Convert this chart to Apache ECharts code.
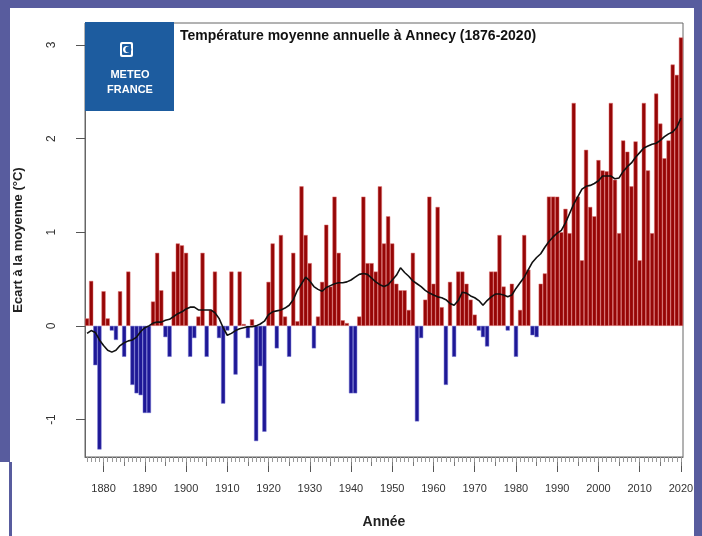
<!DOCTYPE html>
<html>
<head>
<meta charset="utf-8">
<script src="https://cdn.jsdelivr.net/npm/echarts@6/dist/echarts.min.js"></script>
<style>
  html, body { margin: 0; padding: 0; background: #fff; }
  #wrap { position: relative; width: 702px; height: 536px; background: #fff; overflow: hidden; }
  .frame { position: absolute; background: #585c9e; }
  #chart { position: absolute; left: 0; top: 0; width: 702px; height: 536px; }
</style>
</head>
<body>
<div id="wrap">
  <div class="frame" style="left:0;top:0;width:702px;height:8px"></div>
  <div class="frame" style="left:0;top:0;width:10px;height:462px"></div>
  <div class="frame" style="left:9px;top:462px;width:3px;height:74px"></div>
  <div class="frame" style="left:694px;top:0;width:8px;height:536px"></div>
  <div id="chart"></div>
</div>
<script>
// années 1876 - 2020
var annees = [];
for (var a = 1876; a <= 2020; a++) { annees.push(String(a)); }

// écart annuel à la moyenne (°C)
var ecart = [
  0.08, 0.48, -0.42, -1.32, 0.37, 0.08, -0.05, -0.15, 0.37, -0.33,   // 1876-1885
  0.58, -0.63, -0.72, -0.74, -0.93, -0.93, 0.26, 0.78, 0.38, -0.12,  // 1886-1895
  -0.33, 0.58, 0.88, 0.86, 0.78, -0.33, -0.13, 0.10, 0.78, -0.33,    // 1896-1905
  0.17, 0.58, -0.13, -0.83, -0.05, 0.58, -0.52, 0.58, 0.02, -0.13,   // 1906-1915
  0.07, -1.23, -0.43, -1.13, 0.47, 0.88, -0.24, 0.97, 0.10, -0.33,   // 1916-1925
  0.78, 0.05, 1.49, 0.97, 0.67, -0.24, 0.10, 0.47, 1.08, 0.42,       // 1926-1935
  1.38, 0.78, 0.06, 0.03, -0.72, -0.72, 0.10, 1.38, 0.67, 0.67,      // 1936-1945
  0.58, 1.49, 0.88, 1.17, 0.88, 0.45, 0.38, 0.38, 0.17, 0.78,        // 1946-1955
  -1.02, -0.13, 0.28, 1.38, 0.45, 1.27, 0.20, -0.63, 0.47, -0.33,    // 1956-1965
  0.58, 0.58, 0.45, 0.28, 0.12, -0.05, -0.12, -0.22, 0.58, 0.58,     // 1966-1975
  0.97, 0.42, -0.05, 0.45, -0.33, 0.17, 0.97, 0.60, -0.10, -0.12,    // 1976-1985
  0.45, 0.56, 1.38, 1.38, 1.38, 1.00, 1.25, 0.99, 2.38, 1.38,        // 1986-1995
  0.70, 1.88, 1.27, 1.17, 1.77, 1.66, 1.65, 2.38, 1.56, 0.99,        // 1996-2005
  1.98, 1.86, 1.49, 1.97, 0.70, 2.38, 1.66, 0.99, 2.48, 2.16,        // 2006-2015
  1.79, 1.98, 2.79, 2.68, 3.08                                       // 2016-2020
];

// courbe lissée (trait noir)
var lissage = [
  -0.08, -0.05, -0.07, -0.15, -0.21, -0.26, -0.28, -0.26, -0.21, -0.18,
  -0.16, -0.15, -0.12, -0.06, -0.02, 0.00, 0.03, 0.04, 0.04, 0.06,
  0.07, 0.10, 0.13, 0.15, 0.18, 0.20, 0.20, 0.17, 0.17, 0.17,
  0.17, 0.14, 0.08, -0.02, -0.10, -0.08, -0.05, -0.03, -0.02, -0.01,
  -0.01, 0.00, 0.02, 0.05, 0.12, 0.15, 0.16, 0.17, 0.19, 0.22,
  0.28, 0.38, 0.45, 0.52, 0.48, 0.42, 0.39, 0.37, 0.41, 0.43,
  0.45, 0.46, 0.46, 0.47, 0.49, 0.52, 0.55, 0.56, 0.55, 0.51,
  0.47, 0.44, 0.42, 0.44, 0.49, 0.54, 0.62, 0.57, 0.53, 0.48,
  0.45, 0.42, 0.38, 0.35, 0.33, 0.31, 0.30, 0.28, 0.24, 0.22,
  0.27, 0.36, 0.35, 0.32, 0.30, 0.27, 0.22, 0.27, 0.31, 0.34,
  0.34, 0.33, 0.31, 0.33, 0.40, 0.46, 0.52, 0.60, 0.68, 0.73,
  0.77, 0.84, 0.90, 0.95, 0.99, 1.02, 1.10, 1.20, 1.30, 1.38,
  1.46, 1.49, 1.50, 1.52, 1.55, 1.60, 1.60, 1.60, 1.57, 1.58,
  1.65, 1.70, 1.74, 1.80, 1.85, 1.90, 1.92, 1.94, 1.95, 1.98,
  2.02, 2.05, 2.07, 2.12, 2.22
];

var graduationsY = [-1, 0, 1, 2, 3];

var police = 'Liberation Sans, Arial, Helvetica, sans-serif';

// rouge pour les années chaudes, bleu pour les froides
var barres = ecart.map(function(v) {
  return {
    value: v,
    itemStyle: v >= 0
      ? { color: '#960606', borderColor: '#de7070' }
      : { color: '#1e1896', borderColor: '#6f6fd0' }
  };
});

function tousLes(n) {
  return function(idx, val) { return Number(val) % n === 0; };
}

var myChart = echarts.init(document.getElementById('chart'), null, { renderer: 'canvas' });

var option = {
  backgroundColor: 'transparent',
  animation: false,
  textStyle: { fontFamily: police },
  title: {
    text: 'Température moyenne annuelle à Annecy (1876-2020)',
    left: 180,
    top: 29,
    padding: 0,
    textStyle: { fontSize: 14, fontWeight: 'bold', color: '#111', fontFamily: police }
  },
  grid: {
    left: 85,
    right: 19,
    top: 23,
    bottom: 79,
    show: true,
    borderColor: '#666',
    borderWidth: 1,
    backgroundColor: 'transparent'
  },
  xAxis: [
    {
      type: 'category',
      data: annees,
      position: 'bottom',
      name: 'Année',
      nameLocation: 'middle',
      nameGap: 58,
      nameTextStyle: { fontSize: 14, fontWeight: 'bold', color: '#222' },
      axisLine: { show: true, onZero: false, lineStyle: { color: '#666' } },
      axisTick: { show: true, alignWithLabel: true, interval: tousLes(10), length: 15, lineStyle: { color: '#555' } },
      axisLabel: { show: true, interval: tousLes(10), fontSize: 11, color: '#333', margin: 26 },
      splitLine: { show: false }
    },
    {
      type: 'category',
      data: annees,
      position: 'bottom',
      axisLine: { show: false, onZero: false },
      axisTick: { show: true, alignWithLabel: true, interval: tousLes(5), length: 9, lineStyle: { color: '#777' } },
      axisLabel: { show: false },
      splitLine: { show: false }
    },
    {
      type: 'category',
      data: annees,
      position: 'bottom',
      axisLine: { show: false, onZero: false },
      axisTick: { show: true, alignWithLabel: true, interval: 0, length: 5, lineStyle: { color: '#999' } },
      axisLabel: { show: false },
      splitLine: { show: false }
    }
  ],
  yAxis: {
    type: 'value',
    min: -1.4,
    max: 3.234,
    name: 'Ecart à la moyenne (°C)',
    nameLocation: 'middle',
    nameRotate: 90,
    nameGap: 60,
    nameTextStyle: { fontSize: 13, fontWeight: 'bold', color: '#222' },
    axisLine: { show: true, lineStyle: { color: '#666' } },
    axisTick: { show: true, length: 9, customValues: graduationsY, lineStyle: { color: '#555' } },
    axisLabel: { customValues: graduationsY, rotate: 90, fontSize: 12, color: '#333', margin: 27 },
    splitLine: { show: false }
  },
  graphic: [
    { type: 'rect', shape: { x: 85, y: 22, width: 89, height: 89 }, style: { fill: '#1d5c9f' }, z: 100 },
    { type: 'rect', shape: { x: 120, y: 42, width: 13, height: 15, r: 2 }, style: { fill: '#ffffff' }, z: 101 },
    { type: 'rect', shape: { x: 122, y: 44, width: 9, height: 11, r: 1 }, style: { fill: '#1d5c9f' }, z: 102 },
    { type: 'circle', shape: { cx: 126.5, cy: 49.5, r: 3.5 }, style: { fill: '#ffffff' }, z: 103 },
    { type: 'circle', shape: { cx: 128.3, cy: 49.5, r: 3 }, style: { fill: '#1d5c9f' }, z: 104 },
    { type: 'text', x: 130, y: 75, style: { text: 'METEO', fill: '#fff', font: 'bold 11px ' + police, textAlign: 'center', textVerticalAlign: 'middle' }, z: 101 },
    { type: 'text', x: 130, y: 90, style: { text: 'FRANCE', fill: '#fff', font: 'bold 11px ' + police, textAlign: 'center', textVerticalAlign: 'middle' }, z: 101 }
  ],
  series: [
    {
      name: 'Ecart',
      type: 'bar',
      xAxisIndex: 0,
      data: barres,
      barCategoryGap: '0%',
      itemStyle: { borderWidth: 0.5 }
    },
    {
      name: 'Moyenne glissante',
      type: 'line',
      xAxisIndex: 0,
      data: lissage,
      symbol: 'none',
      smooth: false,
      lineStyle: { color: '#111', width: 1.6 },
      z: 5
    }
  ]
};

myChart.setOption(option);
</script>
</body>
</html>
